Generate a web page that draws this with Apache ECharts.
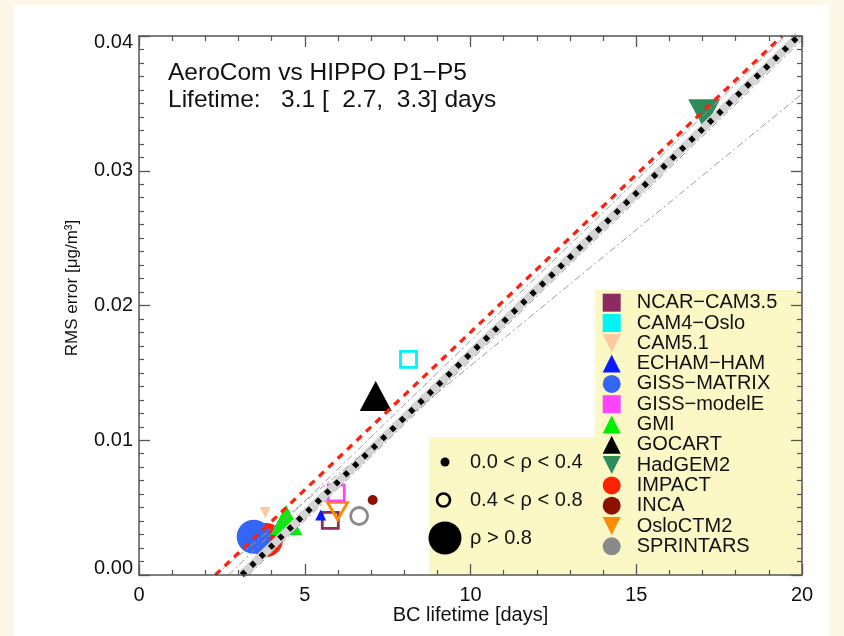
<!DOCTYPE html>
<html>
<head>
<meta charset="utf-8">
<script src="https://cdn.jsdelivr.net/npm/echarts@6/dist/echarts.min.js"></script>
<style>
  html, body { margin: 0; padding: 0; background: #fdf7e7; }
  #chart { width: 844px; height: 636px; }
</style>
</head>
<body>
<div id="chart"></div>
<script>
// Model names, BC lifetime (days) and RMS error (ug/m3) per model
const models = ['NCAR−CAM3.5', 'CAM4−Oslo', 'CAM5.1', 'ECHAM−HAM', 'GISS−MATRIX', 'GISS−modelE',
  'GMI', 'GOCART', 'HadGEM2', 'IMPACT', 'INCA', 'OsloCTM2', 'SPRINTARS'];
const lifetimes = [5.77, 8.13, 3.81, 5.48, 3.46, 5.95, 4.44, 7.14, 17.05, 3.83, 7.05, 5.99, 6.64];
const rmsErrors = [0.00406, 0.0160, 0.00464, 0.00445, 0.00284, 0.00609, 0.00408, 0.01328, 0.0342, 0.0026, 0.00557, 0.00475, 0.00438];
// correlation class: low = 0.0<rho<0.4, mid = 0.4<rho<0.8, high = rho>0.8
const corrClass = ['mid', 'mid', 'low', 'low', 'high', 'mid', 'high', 'high', 'high', 'high', 'low', 'mid', 'mid'];

// Regression lines (lifetime, RMS) end points
const fitAll = [[2.3, 0], [19.4, 0.04]];
const fitCentral = [[3.1, 0], [19.9, 0.04]];
const fitLow = [[2.7, 0], [19.5, 0.04]];
const fitHigh = [[3.3, 0], [20.0, 0.0397]];
const fitWeak = [[2.3, 0], [20.0, 0.0357]];

// Axis ticks
const xTicks = { min: 0, max: 20, step: 5 };
const yTicks = { min: 0, max: 0.04, step: 0.01 };

// Marker styling per model
const markerStyle = {
  'NCAR−CAM3.5': { color: '#8b2b62', shape: 'square' },
  'CAM4−Oslo':   { color: '#00f4f4', shape: 'square' },
  'CAM5.1':      { color: '#ffc79c', shape: 'down' },
  'ECHAM−HAM':   { color: '#0a1cff', shape: 'up' },
  'GISS−MATRIX': { color: '#3565f4', shape: 'circle' },
  'GISS−modelE': { color: '#ff44ff', shape: 'square' },
  'GMI':         { color: '#00ee00', shape: 'up' },
  'GOCART':      { color: '#000000', shape: 'up' },
  'HadGEM2':     { color: '#2e8b5a', shape: 'down' },
  'IMPACT':      { color: '#ff2200', shape: 'circle' },
  'INCA':        { color: '#8b1200', shape: 'circle' },
  'OsloCTM2':    { color: '#ff8c00', shape: 'down' },
  'SPRINTARS':   { color: '#8a8a8a', shape: 'circle' }
};
const shapeSymbol = {
  square: 'path://M0,0L2,0L2,2L0,2Z',
  circle: 'circle',
  up: 'path://M1,0L2,2L0,2Z',
  down: 'path://M0,0L2,0L1,2Z'
};

function symbolSize(shape, cls) {
  if (cls === 'high') return shape === 'circle' ? 34 : [32, 30];
  if (cls === 'mid') return shape === 'circle' ? 17 : (shape === 'square' ? 16 : [20, 17]);
  return shape === 'circle' ? 10 : 11;
}

const FONT = '"Liberation Sans", Arial, Helvetica, sans-serif';
const AXIS_COLOR = '#555';
const TEXT_COLOR = '#111';

// markers drawn back to front
const drawOrder = ['IMPACT', 'GISS−MATRIX', 'GMI', 'CAM5.1', 'NCAR−CAM3.5', 'ECHAM−HAM', 'OsloCTM2',
  'GISS−modelE', 'SPRINTARS', 'INCA', 'CAM4−Oslo', 'GOCART', 'HadGEM2'];

const scatterSeries = drawOrder.map(function (name) {
  const i = models.indexOf(name);
  const st = markerStyle[name];
  const cls = corrClass[i];
  const hollow = cls === 'mid';
  return {
    name: name,
    type: 'scatter',
    z: 2,
    symbol: shapeSymbol[st.shape],
    symbolSize: symbolSize(st.shape, cls),
    itemStyle: hollow
      ? { color: 'rgba(0,0,0,0)', borderColor: st.color, borderWidth: 2.8, opacity: 1 }
      : { color: st.color, opacity: 1 },
    emphasis: { disabled: true },
    data: [[lifetimes[i], rmsErrors[i]]]
  };
});

function lineSeries(data, style, z) {
  return {
    type: 'line', data: data, z: z, silent: true, showSymbol: false, symbol: 'none',
    lineStyle: style, emphasis: { disabled: true }, clip: true
  };
}

const lines = [
  lineSeries(fitCentral, { color: '#d4d4d4', width: 8.5, type: 'solid' }, 3),
  lineSeries(fitLow, { color: '#9a9a9a', width: 1, type: [7, 3, 2, 3] }, 4),
  lineSeries(fitHigh, { color: '#9a9a9a', width: 1, type: [7, 3, 2, 3] }, 4),
  lineSeries(fitWeak, { color: '#9a9a9a', width: 1, type: [7, 3, 2, 3] }, 4),
  lineSeries(fitCentral, { color: '#000', width: 5.5, type: [5, 8] }, 5),
  lineSeries(fitAll, { color: '#ff2010', width: 3.3, type: [7, 6] }, 5)
];

const legendData = models.map(function (name) {
  const st = markerStyle[name];
  return { name: name, icon: shapeSymbol[st.shape], itemStyle: { color: st.color, borderWidth: 0 } };
});

function axisCommon(showLabels) {
  return {
    axisLine: { show: true, onZero: false, lineStyle: { color: AXIS_COLOR, width: 1.5 } },
    axisTick: { show: true, inside: true, length: 11, lineStyle: { color: AXIS_COLOR, width: 1.3 } },
    minorTick: { show: true, length: 5, lineStyle: { color: AXIS_COLOR, width: 1.2 } },
    splitLine: { show: false },
    axisLabel: { show: showLabels, fontSize: 20, color: TEXT_COLOR, fontFamily: FONT }
  };
}

const xBottom = Object.assign(axisCommon(true), {
  type: 'value', position: 'bottom', min: xTicks.min, max: xTicks.max, interval: xTicks.step, z: 6
});
xBottom.minorTick.splitNumber = 5;
xBottom.axisLabel.margin = 10;
const xTop = Object.assign(axisCommon(false), {
  type: 'value', position: 'top', min: xTicks.min, max: xTicks.max, interval: xTicks.step, z: 6
});
xTop.minorTick.splitNumber = 5;

const yLeft = Object.assign(axisCommon(true), {
  type: 'value', position: 'left', min: yTicks.min, max: yTicks.max, interval: yTicks.step, z: 6
});
yLeft.minorTick.splitNumber = 10;
yLeft.axisLabel.margin = 6;
yLeft.axisLabel.lineHeight = 13;
yLeft.axisLabel.formatter = function (v) { return v.toFixed(2); };
yLeft.axisLabel.verticalAlignMinLabel = 'bottom';
yLeft.axisLabel.verticalAlignMaxLabel = 'top';
const yRight = Object.assign(axisCommon(false), {
  type: 'value', position: 'right', min: yTicks.min, max: yTicks.max, interval: yTicks.step, z: 6
});
yRight.minorTick.splitNumber = 10;

const chart = echarts.init(document.getElementById('chart'), null, { renderer: 'canvas' });

const option = {
  backgroundColor: '#fdf7e7',
  animation: false,
  textStyle: { fontFamily: FONT },
  grid: { left: 139, right: 42, top: 36, bottom: 61, containLabel: false },
  xAxis: [xBottom, xTop],
  yAxis: [yLeft, yRight],
  legend: {
    orient: 'vertical', left: 602.7, top: 292.7, padding: 0,
    itemWidth: 18, itemHeight: 18, itemGap: 0.3,
    selectedMode: false,
    textStyle: { fontSize: 20, color: TEXT_COLOR, fontFamily: FONT, padding: [0, 0, 0, 11] },
    data: legendData
  },
  graphic: [
    { type: 'rect', z: -20, silent: true, shape: { x: 14, y: 5, width: 816, height: 640 }, style: { fill: '#ffffff' } },
    { type: 'polygon', z: -10, silent: true,
      shape: { points: [[429, 437], [595, 437], [595, 290], [802, 290], [802, 575], [429, 575]] },
      style: { fill: '#fcf8c6' } },
    { type: 'text', z: 10, silent: true, style: { x: 168, y: 73, text: 'AeroCom vs HIPPO P1−P5', font: '24.5px ' + FONT, fill: TEXT_COLOR, verticalAlign: 'middle' } },
    { type: 'text', z: 10, silent: true, style: { x: 168, y: 100, text: 'Lifetime:   3.1 [  2.7,  3.3] days', font: '24.5px ' + FONT, fill: TEXT_COLOR, verticalAlign: 'middle' } },
    { type: 'text', z: 10, silent: true, style: { x: 470.5, y: 615, text: 'BC lifetime [days]', font: '20px ' + FONT, fill: TEXT_COLOR, align: 'center', verticalAlign: 'middle' } },
    { type: 'text', z: 10, silent: true, x: 72, y: 288, rotation: Math.PI / 2,
      style: { x: 0, y: 0, text: 'RMS error [μg/m³]', font: '17px ' + FONT, fill: TEXT_COLOR, align: 'center', verticalAlign: 'middle' } },
    // correlation size key
    { type: 'circle', z: 10, silent: true, shape: { cx: 445, cy: 462, r: 4.5 }, style: { fill: '#000' } },
    { type: 'circle', z: 10, silent: true, shape: { cx: 443.5, cy: 500, r: 6.5 }, style: { fill: 'none', stroke: '#000', lineWidth: 2.6 } },
    { type: 'circle', z: 10, silent: true, shape: { cx: 445, cy: 538, r: 16.5 }, style: { fill: '#000' } },
    { type: 'text', z: 10, silent: true, style: { x: 470, y: 462, text: '0.0 < ρ < 0.4', font: '20px ' + FONT, fill: TEXT_COLOR, verticalAlign: 'middle' } },
    { type: 'text', z: 10, silent: true, style: { x: 470, y: 500, text: '0.4 < ρ < 0.8', font: '20px ' + FONT, fill: TEXT_COLOR, verticalAlign: 'middle' } },
    { type: 'text', z: 10, silent: true, style: { x: 470, y: 538, text: 'ρ > 0.8', font: '20px ' + FONT, fill: TEXT_COLOR, verticalAlign: 'middle' } }
  ],
  series: scatterSeries.concat(lines)
};

chart.setOption(option);
</script>
</body>
</html>
